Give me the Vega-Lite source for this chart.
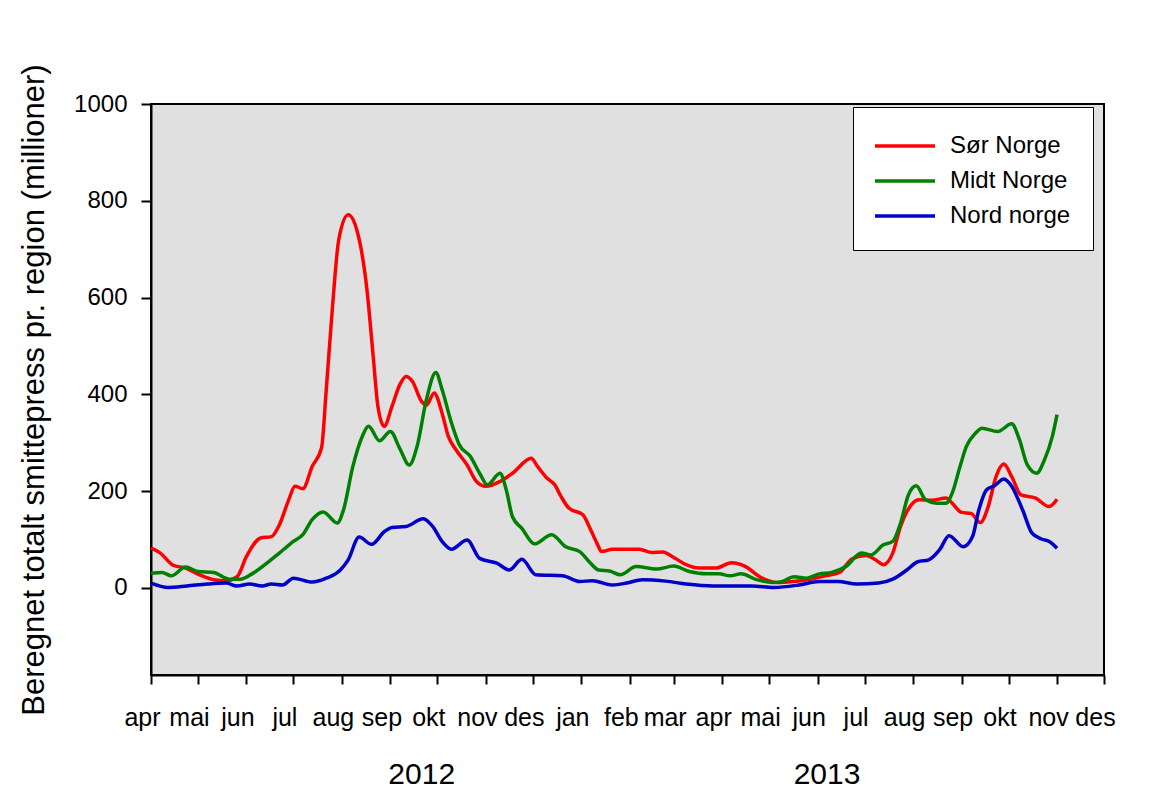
{
  "$schema": "https://vega.github.io/schema/vega-lite/v6.json",
  "width": 953,
  "height": 571,
  "autosize": {"type": "none"},
  "padding": {"left": 151, "top": 104, "right": 56, "bottom": 121},
  "background": "white",
  "config": {
    "font": "Liberation Sans",
    "view": {"fill": "#e0e0e0", "stroke": "black", "strokeWidth": 2}
  },
  "datasets": {
    "series": [
      {"date": "2012-04-01", "region": "Sør Norge", "value": 82},
      {"date": "2012-04-07", "region": "Sør Norge", "value": 72},
      {"date": "2012-04-15", "region": "Sør Norge", "value": 47},
      {"date": "2012-04-23", "region": "Sør Norge", "value": 41},
      {"date": "2012-05-02", "region": "Sør Norge", "value": 27},
      {"date": "2012-05-11", "region": "Sør Norge", "value": 17},
      {"date": "2012-05-19", "region": "Sør Norge", "value": 15},
      {"date": "2012-05-26", "region": "Sør Norge", "value": 23},
      {"date": "2012-06-01", "region": "Sør Norge", "value": 65},
      {"date": "2012-06-10", "region": "Sør Norge", "value": 103},
      {"date": "2012-06-17", "region": "Sør Norge", "value": 106},
      {"date": "2012-06-22", "region": "Sør Norge", "value": 130},
      {"date": "2012-06-28", "region": "Sør Norge", "value": 182},
      {"date": "2012-07-02", "region": "Sør Norge", "value": 210},
      {"date": "2012-07-07", "region": "Sør Norge", "value": 205},
      {"date": "2012-07-13", "region": "Sør Norge", "value": 251},
      {"date": "2012-07-19", "region": "Sør Norge", "value": 290},
      {"date": "2012-07-22", "region": "Sør Norge", "value": 410},
      {"date": "2012-07-26", "region": "Sør Norge", "value": 582},
      {"date": "2012-07-30", "region": "Sør Norge", "value": 720},
      {"date": "2012-08-05", "region": "Sør Norge", "value": 771},
      {"date": "2012-08-11", "region": "Sør Norge", "value": 734},
      {"date": "2012-08-17", "region": "Sør Norge", "value": 616},
      {"date": "2012-08-21", "region": "Sør Norge", "value": 478},
      {"date": "2012-08-24", "region": "Sør Norge", "value": 375},
      {"date": "2012-08-28", "region": "Sør Norge", "value": 334},
      {"date": "2012-09-02", "region": "Sør Norge", "value": 375},
      {"date": "2012-09-07", "region": "Sør Norge", "value": 420},
      {"date": "2012-09-11", "region": "Sør Norge", "value": 437},
      {"date": "2012-09-15", "region": "Sør Norge", "value": 427},
      {"date": "2012-09-21", "region": "Sør Norge", "value": 385},
      {"date": "2012-09-24", "region": "Sør Norge", "value": 378},
      {"date": "2012-09-29", "region": "Sør Norge", "value": 403},
      {"date": "2012-10-04", "region": "Sør Norge", "value": 361},
      {"date": "2012-10-08", "region": "Sør Norge", "value": 313},
      {"date": "2012-10-13", "region": "Sør Norge", "value": 285},
      {"date": "2012-10-20", "region": "Sør Norge", "value": 254},
      {"date": "2012-10-26", "region": "Sør Norge", "value": 220},
      {"date": "2012-11-01", "region": "Sør Norge", "value": 210},
      {"date": "2012-11-10", "region": "Sør Norge", "value": 220},
      {"date": "2012-11-18", "region": "Sør Norge", "value": 237},
      {"date": "2012-11-30", "region": "Sør Norge", "value": 268},
      {"date": "2012-12-04", "region": "Sør Norge", "value": 251},
      {"date": "2012-12-10", "region": "Sør Norge", "value": 227},
      {"date": "2012-12-15", "region": "Sør Norge", "value": 213},
      {"date": "2012-12-19", "region": "Sør Norge", "value": 189},
      {"date": "2012-12-24", "region": "Sør Norge", "value": 165},
      {"date": "2013-01-02", "region": "Sør Norge", "value": 151},
      {"date": "2013-01-06", "region": "Sør Norge", "value": 127},
      {"date": "2013-01-11", "region": "Sør Norge", "value": 92},
      {"date": "2013-01-14", "region": "Sør Norge", "value": 75},
      {"date": "2013-01-21", "region": "Sør Norge", "value": 80},
      {"date": "2013-01-30", "region": "Sør Norge", "value": 80},
      {"date": "2013-02-07", "region": "Sør Norge", "value": 80},
      {"date": "2013-02-15", "region": "Sør Norge", "value": 73},
      {"date": "2013-02-22", "region": "Sør Norge", "value": 74},
      {"date": "2013-02-28", "region": "Sør Norge", "value": 65},
      {"date": "2013-03-09", "region": "Sør Norge", "value": 48},
      {"date": "2013-03-17", "region": "Sør Norge", "value": 41},
      {"date": "2013-03-28", "region": "Sør Norge", "value": 41},
      {"date": "2013-04-07", "region": "Sør Norge", "value": 52},
      {"date": "2013-04-16", "region": "Sør Norge", "value": 44},
      {"date": "2013-04-25", "region": "Sør Norge", "value": 23},
      {"date": "2013-05-06", "region": "Sør Norge", "value": 11},
      {"date": "2013-05-16", "region": "Sør Norge", "value": 13},
      {"date": "2013-05-27", "region": "Sør Norge", "value": 18},
      {"date": "2013-06-06", "region": "Sør Norge", "value": 25},
      {"date": "2013-06-15", "region": "Sør Norge", "value": 32},
      {"date": "2013-06-23", "region": "Sør Norge", "value": 60},
      {"date": "2013-07-02", "region": "Sør Norge", "value": 67},
      {"date": "2013-07-08", "region": "Sør Norge", "value": 58},
      {"date": "2013-07-13", "region": "Sør Norge", "value": 48},
      {"date": "2013-07-19", "region": "Sør Norge", "value": 72},
      {"date": "2013-07-24", "region": "Sør Norge", "value": 127},
      {"date": "2013-07-31", "region": "Sør Norge", "value": 172},
      {"date": "2013-08-05", "region": "Sør Norge", "value": 182},
      {"date": "2013-08-13", "region": "Sør Norge", "value": 181},
      {"date": "2013-08-22", "region": "Sør Norge", "value": 186},
      {"date": "2013-08-26", "region": "Sør Norge", "value": 175},
      {"date": "2013-09-01", "region": "Sør Norge", "value": 156},
      {"date": "2013-09-07", "region": "Sør Norge", "value": 154},
      {"date": "2013-09-13", "region": "Sør Norge", "value": 135},
      {"date": "2013-09-18", "region": "Sør Norge", "value": 168},
      {"date": "2013-09-23", "region": "Sør Norge", "value": 230},
      {"date": "2013-09-28", "region": "Sør Norge", "value": 256},
      {"date": "2013-10-03", "region": "Sør Norge", "value": 230},
      {"date": "2013-10-09", "region": "Sør Norge", "value": 192},
      {"date": "2013-10-18", "region": "Sør Norge", "value": 186},
      {"date": "2013-10-27", "region": "Sør Norge", "value": 168},
      {"date": "2013-11-01", "region": "Sør Norge", "value": 183},

      {"date": "2012-04-01", "region": "Midt Norge", "value": 30},
      {"date": "2012-04-08", "region": "Midt Norge", "value": 32},
      {"date": "2012-04-14", "region": "Midt Norge", "value": 25},
      {"date": "2012-04-23", "region": "Midt Norge", "value": 43},
      {"date": "2012-05-01", "region": "Midt Norge", "value": 34},
      {"date": "2012-05-11", "region": "Midt Norge", "value": 32},
      {"date": "2012-05-21", "region": "Midt Norge", "value": 18},
      {"date": "2012-05-28", "region": "Midt Norge", "value": 18},
      {"date": "2012-06-05", "region": "Midt Norge", "value": 30},
      {"date": "2012-06-14", "region": "Midt Norge", "value": 51},
      {"date": "2012-06-22", "region": "Midt Norge", "value": 72},
      {"date": "2012-07-01", "region": "Midt Norge", "value": 96},
      {"date": "2012-07-07", "region": "Midt Norge", "value": 110},
      {"date": "2012-07-13", "region": "Midt Norge", "value": 141},
      {"date": "2012-07-20", "region": "Midt Norge", "value": 157},
      {"date": "2012-07-29", "region": "Midt Norge", "value": 134},
      {"date": "2012-08-02", "region": "Midt Norge", "value": 161},
      {"date": "2012-08-08", "region": "Midt Norge", "value": 251},
      {"date": "2012-08-14", "region": "Midt Norge", "value": 313},
      {"date": "2012-08-18", "region": "Midt Norge", "value": 334},
      {"date": "2012-08-25", "region": "Midt Norge", "value": 304},
      {"date": "2012-09-01", "region": "Midt Norge", "value": 323},
      {"date": "2012-09-07", "region": "Midt Norge", "value": 288},
      {"date": "2012-09-13", "region": "Midt Norge", "value": 254},
      {"date": "2012-09-18", "region": "Midt Norge", "value": 292},
      {"date": "2012-09-24", "region": "Midt Norge", "value": 389},
      {"date": "2012-09-30", "region": "Midt Norge", "value": 445},
      {"date": "2012-10-04", "region": "Midt Norge", "value": 410},
      {"date": "2012-10-10", "region": "Midt Norge", "value": 341},
      {"date": "2012-10-15", "region": "Midt Norge", "value": 296},
      {"date": "2012-10-22", "region": "Midt Norge", "value": 272},
      {"date": "2012-10-28", "region": "Midt Norge", "value": 237},
      {"date": "2012-11-02", "region": "Midt Norge", "value": 213},
      {"date": "2012-11-10", "region": "Midt Norge", "value": 237},
      {"date": "2012-11-14", "region": "Midt Norge", "value": 203},
      {"date": "2012-11-18", "region": "Midt Norge", "value": 147},
      {"date": "2012-11-24", "region": "Midt Norge", "value": 123},
      {"date": "2012-12-02", "region": "Midt Norge", "value": 91},
      {"date": "2012-12-13", "region": "Midt Norge", "value": 110},
      {"date": "2012-12-22", "region": "Midt Norge", "value": 85},
      {"date": "2012-12-31", "region": "Midt Norge", "value": 75},
      {"date": "2013-01-06", "region": "Midt Norge", "value": 54},
      {"date": "2013-01-12", "region": "Midt Norge", "value": 37},
      {"date": "2013-01-19", "region": "Midt Norge", "value": 35},
      {"date": "2013-01-26", "region": "Midt Norge", "value": 27},
      {"date": "2013-02-05", "region": "Midt Norge", "value": 44},
      {"date": "2013-02-18", "region": "Midt Norge", "value": 39},
      {"date": "2013-03-01", "region": "Midt Norge", "value": 45},
      {"date": "2013-03-11", "region": "Midt Norge", "value": 34},
      {"date": "2013-03-22", "region": "Midt Norge", "value": 29},
      {"date": "2013-03-30", "region": "Midt Norge", "value": 29},
      {"date": "2013-04-06", "region": "Midt Norge", "value": 25},
      {"date": "2013-04-13", "region": "Midt Norge", "value": 29},
      {"date": "2013-04-23", "region": "Midt Norge", "value": 17},
      {"date": "2013-05-03", "region": "Midt Norge", "value": 11},
      {"date": "2013-05-09", "region": "Midt Norge", "value": 13},
      {"date": "2013-05-17", "region": "Midt Norge", "value": 23},
      {"date": "2013-05-25", "region": "Midt Norge", "value": 20},
      {"date": "2013-06-02", "region": "Midt Norge", "value": 29},
      {"date": "2013-06-10", "region": "Midt Norge", "value": 32},
      {"date": "2013-06-19", "region": "Midt Norge", "value": 44},
      {"date": "2013-06-29", "region": "Midt Norge", "value": 72},
      {"date": "2013-07-05", "region": "Midt Norge", "value": 68},
      {"date": "2013-07-13", "region": "Midt Norge", "value": 89},
      {"date": "2013-07-19", "region": "Midt Norge", "value": 96},
      {"date": "2013-07-24", "region": "Midt Norge", "value": 134},
      {"date": "2013-07-29", "region": "Midt Norge", "value": 192},
      {"date": "2013-08-03", "region": "Midt Norge", "value": 211},
      {"date": "2013-08-09", "region": "Midt Norge", "value": 182},
      {"date": "2013-08-16", "region": "Midt Norge", "value": 175},
      {"date": "2013-08-22", "region": "Midt Norge", "value": 175},
      {"date": "2013-08-26", "region": "Midt Norge", "value": 196},
      {"date": "2013-08-31", "region": "Midt Norge", "value": 251},
      {"date": "2013-09-04", "region": "Midt Norge", "value": 292},
      {"date": "2013-09-10", "region": "Midt Norge", "value": 320},
      {"date": "2013-09-14", "region": "Midt Norge", "value": 330},
      {"date": "2013-09-24", "region": "Midt Norge", "value": 323},
      {"date": "2013-10-03", "region": "Midt Norge", "value": 339},
      {"date": "2013-10-08", "region": "Midt Norge", "value": 306},
      {"date": "2013-10-13", "region": "Midt Norge", "value": 254},
      {"date": "2013-10-19", "region": "Midt Norge", "value": 237},
      {"date": "2013-10-24", "region": "Midt Norge", "value": 265},
      {"date": "2013-10-29", "region": "Midt Norge", "value": 313},
      {"date": "2013-11-01", "region": "Midt Norge", "value": 358},

      {"date": "2012-04-01", "region": "Nord norge", "value": 10},
      {"date": "2012-04-12", "region": "Nord norge", "value": 1},
      {"date": "2012-04-24", "region": "Nord norge", "value": 4},
      {"date": "2012-05-07", "region": "Nord norge", "value": 8},
      {"date": "2012-05-19", "region": "Nord norge", "value": 10},
      {"date": "2012-05-26", "region": "Nord norge", "value": 4},
      {"date": "2012-06-03", "region": "Nord norge", "value": 8},
      {"date": "2012-06-11", "region": "Nord norge", "value": 4},
      {"date": "2012-06-17", "region": "Nord norge", "value": 8},
      {"date": "2012-06-24", "region": "Nord norge", "value": 6},
      {"date": "2012-07-01", "region": "Nord norge", "value": 20},
      {"date": "2012-07-13", "region": "Nord norge", "value": 12},
      {"date": "2012-07-22", "region": "Nord norge", "value": 20},
      {"date": "2012-07-31", "region": "Nord norge", "value": 37},
      {"date": "2012-08-05", "region": "Nord norge", "value": 58},
      {"date": "2012-08-12", "region": "Nord norge", "value": 105},
      {"date": "2012-08-20", "region": "Nord norge", "value": 90},
      {"date": "2012-08-28", "region": "Nord norge", "value": 116},
      {"date": "2012-09-02", "region": "Nord norge", "value": 125},
      {"date": "2012-09-11", "region": "Nord norge", "value": 127},
      {"date": "2012-09-22", "region": "Nord norge", "value": 143},
      {"date": "2012-09-28", "region": "Nord norge", "value": 127},
      {"date": "2012-10-04", "region": "Nord norge", "value": 96},
      {"date": "2012-10-10", "region": "Nord norge", "value": 80},
      {"date": "2012-10-20", "region": "Nord norge", "value": 99},
      {"date": "2012-10-28", "region": "Nord norge", "value": 61},
      {"date": "2012-11-08", "region": "Nord norge", "value": 51},
      {"date": "2012-11-16", "region": "Nord norge", "value": 37},
      {"date": "2012-11-24", "region": "Nord norge", "value": 59},
      {"date": "2012-12-03", "region": "Nord norge", "value": 27},
      {"date": "2012-12-20", "region": "Nord norge", "value": 25},
      {"date": "2012-12-31", "region": "Nord norge", "value": 13},
      {"date": "2013-01-08", "region": "Nord norge", "value": 15},
      {"date": "2013-01-21", "region": "Nord norge", "value": 6},
      {"date": "2013-01-30", "region": "Nord norge", "value": 10},
      {"date": "2013-02-09", "region": "Nord norge", "value": 17},
      {"date": "2013-02-24", "region": "Nord norge", "value": 14},
      {"date": "2013-03-09", "region": "Nord norge", "value": 8},
      {"date": "2013-03-26", "region": "Nord norge", "value": 4},
      {"date": "2013-04-20", "region": "Nord norge", "value": 4},
      {"date": "2013-05-04", "region": "Nord norge", "value": 1},
      {"date": "2013-05-20", "region": "Nord norge", "value": 6},
      {"date": "2013-06-02", "region": "Nord norge", "value": 13},
      {"date": "2013-06-14", "region": "Nord norge", "value": 13},
      {"date": "2013-06-26", "region": "Nord norge", "value": 8},
      {"date": "2013-07-10", "region": "Nord norge", "value": 10},
      {"date": "2013-07-19", "region": "Nord norge", "value": 18},
      {"date": "2013-07-28", "region": "Nord norge", "value": 37},
      {"date": "2013-08-04", "region": "Nord norge", "value": 54},
      {"date": "2013-08-11", "region": "Nord norge", "value": 58},
      {"date": "2013-08-18", "region": "Nord norge", "value": 79},
      {"date": "2013-08-24", "region": "Nord norge", "value": 108},
      {"date": "2013-09-02", "region": "Nord norge", "value": 85},
      {"date": "2013-09-08", "region": "Nord norge", "value": 106},
      {"date": "2013-09-12", "region": "Nord norge", "value": 161},
      {"date": "2013-09-17", "region": "Nord norge", "value": 203},
      {"date": "2013-09-22", "region": "Nord norge", "value": 211},
      {"date": "2013-09-28", "region": "Nord norge", "value": 225},
      {"date": "2013-10-03", "region": "Nord norge", "value": 210},
      {"date": "2013-10-10", "region": "Nord norge", "value": 161},
      {"date": "2013-10-16", "region": "Nord norge", "value": 113},
      {"date": "2013-10-22", "region": "Nord norge", "value": 101},
      {"date": "2013-10-27", "region": "Nord norge", "value": 96},
      {"date": "2013-11-01", "region": "Nord norge", "value": 82}
    ],
    "years": [
      {"date": "2012-09-21", "label": "2012"},
      {"date": "2013-06-07", "label": "2013"}
    ]
  },
  "layer": [
    {
      "data": {"name": "series"},
      "mark": {"type": "line", "interpolate": "monotone", "strokeWidth": 3.5},
      "encoding": {
        "x": {
          "field": "date",
          "type": "temporal",
          "scale": {
            "type": "utc",
            "domain": [
              {"year": 2012, "month": 4, "date": 1, "utc": true},
              {"year": 2013, "month": 12, "date": 1, "utc": true}
            ]
          },
          "axis": {
            "title": null,
            "grid": false,
            "values": [
              {"year": 2012, "month": 4, "date": 1, "utc": true},
              {"year": 2012, "month": 5, "date": 1, "utc": true},
              {"year": 2012, "month": 6, "date": 1, "utc": true},
              {"year": 2012, "month": 7, "date": 1, "utc": true},
              {"year": 2012, "month": 8, "date": 1, "utc": true},
              {"year": 2012, "month": 9, "date": 1, "utc": true},
              {"year": 2012, "month": 10, "date": 1, "utc": true},
              {"year": 2012, "month": 11, "date": 1, "utc": true},
              {"year": 2012, "month": 12, "date": 1, "utc": true},
              {"year": 2013, "month": 1, "date": 1, "utc": true},
              {"year": 2013, "month": 2, "date": 1, "utc": true},
              {"year": 2013, "month": 3, "date": 1, "utc": true},
              {"year": 2013, "month": 4, "date": 1, "utc": true},
              {"year": 2013, "month": 5, "date": 1, "utc": true},
              {"year": 2013, "month": 6, "date": 1, "utc": true},
              {"year": 2013, "month": 7, "date": 1, "utc": true},
              {"year": 2013, "month": 8, "date": 1, "utc": true},
              {"year": 2013, "month": 9, "date": 1, "utc": true},
              {"year": 2013, "month": 10, "date": 1, "utc": true},
              {"year": 2013, "month": 11, "date": 1, "utc": true},
              {"year": 2013, "month": 12, "date": 1, "utc": true}
            ],
            "labelExpr": "['jan','feb','mar','apr','mai','jun','jul','aug','sep','okt','nov','des'][utcmonth(datum.value)]",
            "labelFontSize": 25,
            "labelColor": "black",
            "labelPadding": 21,
            "labelOffset": -9,
            "labelFlush": false,
            "labelOverlap": false,
            "tickSize": 9,
            "tickWidth": 2,
            "tickColor": "black",
            "domainColor": "black",
            "domainWidth": 2
          }
        },
        "y": {
          "field": "value",
          "type": "quantitative",
          "scale": {"domain": [-180, 1000], "nice": false, "zero": false},
          "axis": {
            "title": "Beregnet totalt smittepress pr. region (millioner)",
            "titleFontSize": 31,
            "titleFontWeight": "normal",
            "titleColor": "black",
            "titlePadding": 23,
            "grid": false,
            "values": [0, 200, 400, 600, 800, 1000],
            "format": "d",
            "labelFontSize": 24,
            "labelColor": "black",
            "labelPadding": 14,
            "tickSize": 10,
            "tickWidth": 2,
            "tickColor": "black",
            "domainColor": "black",
            "domainWidth": 2
          }
        },
        "color": {
          "field": "region",
          "type": "nominal",
          "scale": {
            "domain": ["Sør Norge", "Midt Norge", "Nord norge"],
            "range": ["#ff0000", "#008000", "#0000c8"]
          },
          "legend": {
            "title": null,
            "orient": "none",
            "legendX": 702,
            "legendY": 3,
            "symbolType": "M-2,0H2",
            "symbolSize": 900,
            "symbolOffset": 13,
            "symbolStrokeWidth": 3.5,
            "labelFontSize": 24,
            "labelColor": "black",
            "labelOffset": 28,
            "padding": 22,
            "rowPadding": 6,
            "strokeColor": "black",
            "fillColor": "white"
          }
        }
      }
    },
    {
      "data": {"name": "years"},
      "mark": {"type": "text", "fontSize": 30, "baseline": "alphabetic", "align": "center", "dy": 109, "color": "black"},
      "encoding": {
        "x": {"field": "date", "type": "temporal"},
        "y": {"datum": -180, "type": "quantitative"},
        "text": {"field": "label"}
      }
    }
  ]
}
